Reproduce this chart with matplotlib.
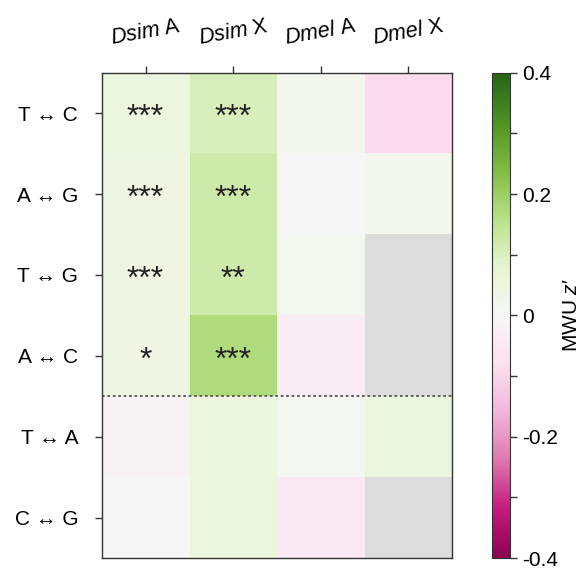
import numpy as np
import matplotlib
matplotlib.use("Agg")
import matplotlib.pyplot as plt

plt.rcParams["font.family"] = ["Liberation Sans", "DejaVu Sans"]
plt.rcParams["mathtext.fontset"] = "custom"
plt.rcParams["mathtext.rm"] = "Liberation Sans"
plt.rcParams["mathtext.it"] = "Liberation Sans:italic"

columns = ["Dsim A", "Dsim X", "Dmel A", "Dmel X"]
col_labels = [r"$\it{Dsim}$ A", r"$\it{Dsim}$ X", r"$\it{Dmel}$ A", r"$\it{Dmel}$ X"]
rows = ["T \u2194 C", "A \u2194 G", "T \u2194 G", "A \u2194 C", "T \u2194 A", "C \u2194 G"]

z_values = np.array([
    [0.05, 0.10, 0.02, -0.09],
    [0.04, 0.12, 0.00, 0.02],
    [0.04, 0.12, 0.015, np.nan],
    [0.04, 0.17, -0.04, np.nan],
    [-0.01, 0.05, 0.01, 0.05],
    [0.00, 0.05, -0.05, np.nan],
])
stars = [
    ["***", "***", "", ""],
    ["***", "***", "", ""],
    ["***", "**", "", ""],
    ["*", "***", "", ""],
    ["", "", "", ""],
    ["", "", "", ""],
]

fig = plt.figure(figsize=(5.85, 5.69), dpi=100)
ax = fig.add_axes([0.174, 0.0193, 0.599, 0.853])
cax = fig.add_axes([0.841, 0.0193, 0.031, 0.853])

cmap = plt.get_cmap("PiYG").copy()
cmap.set_bad("#dcdcdc")
im = ax.imshow(np.ma.masked_invalid(z_values), cmap=cmap, vmin=-0.4, vmax=0.4, aspect="auto")

# asterisks sit high in the font, so push them down a bit
for i in range(len(rows)):
    for j in range(len(columns)):
        if stars[i][j]:
            ax.text(j, i + 0.06, stars[i][j], ha="center", va="center",
                    fontsize=23, color="#222222")

ax.axhline(3.5, color="#555555", linestyle=(0, (1.5, 1.5)), linewidth=1.3)

ax.set_xticks(range(len(columns)))
ax.set_xticklabels(col_labels, rotation=10, fontsize=15.5)
ax.xaxis.tick_top()
ax.set_yticks(range(len(rows)))
ax.set_yticklabels(rows, fontsize=15)
ax.tick_params(axis="x", length=5, width=1, pad=12, color="#333333")
ax.tick_params(axis="y", length=5, width=1, pad=12, color="#333333")
for s in ax.spines.values():
    s.set_color("#333333")
    s.set_linewidth(1)

cb = fig.colorbar(im, cax=cax, ticks=[-0.4, -0.2, 0, 0.2, 0.4])
cb.ax.set_yticklabels(["-0.4", "-0.2", "0", "0.2", "0.4"], fontsize=15)
cb.ax.set_yticks(np.arange(-0.3, 0.4, 0.2), minor=True)
cb.ax.tick_params(which="both", length=5, width=1, color="#333333")
cb.outline.set_edgecolor("#333333")
cb.set_label("MWU $z$\u2032", fontsize=15, labelpad=3)

fig.savefig("out.png", dpi=100)
